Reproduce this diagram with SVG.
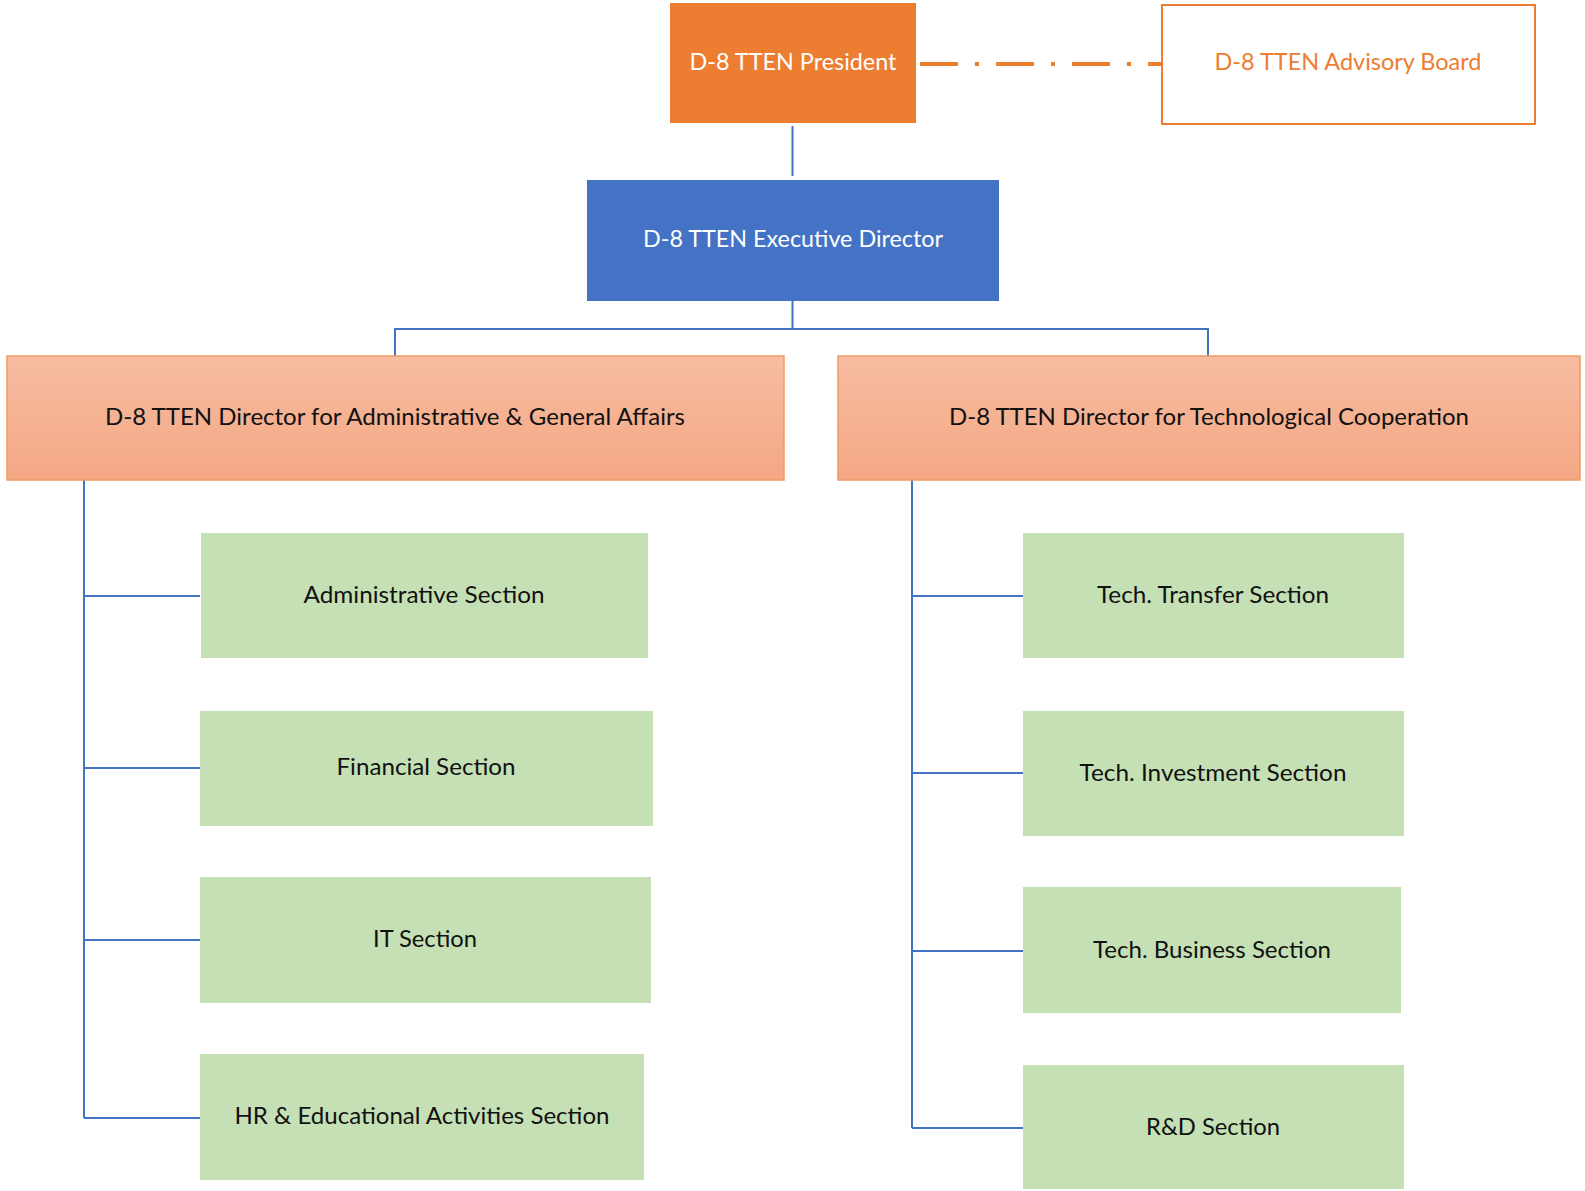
<svg xmlns="http://www.w3.org/2000/svg" width="1585" height="1191" viewBox="0 0 1585 1191">
<style>
text{font-family:Lato,"Liberation Sans",sans-serif;font-size:23px;text-anchor:middle}
.dark{fill:#111}
.white{fill:#fff}
.green{fill:#C5E0B4}
.conn{stroke:#4472C4;stroke-width:2;fill:none}
</style>
<defs>
<linearGradient id="dirGrad" x1="0" y1="0" x2="0" y2="1">
<stop offset="0" stop-color="#F7BDA2"/>
<stop offset="1" stop-color="#F4A783"/>
</linearGradient>
</defs>
<rect width="1585" height="1191" fill="#fff"/>
<g id="connectors">
<line x1="920" y1="64" x2="1161" y2="64" stroke="#ED7D31" stroke-width="4" stroke-dasharray="38 17 4 17"/>
<path class="conn" d="M792.5 126V176"/>
<path class="conn" d="M792.5 301V329M395 356V329H1208V356"/>
<path class="conn" d="M84 480V1118M84 596H200M84 768H200M84 940H200M84 1118H200"/>
<path class="conn" d="M912 480V1128M912 596H1023M912 773H1023M912 951H1023M912 1128H1023"/>
</g>
<g id="president">
<rect x="670" y="3" width="246" height="120" fill="#ED7D31"/>
<text x="793" y="70" class="white" textLength="207" lengthAdjust="spacingAndGlyphs">D-8 TTEN President</text>
</g>
<g id="advisory">
<rect x="1162" y="5" width="373" height="119" fill="#fff" stroke="#ED7D31" stroke-width="2"/>
<text x="1348" y="70" fill="#ED7D31" textLength="267" lengthAdjust="spacingAndGlyphs">D-8 TTEN Advisory Board</text>
</g>
<g id="executive">
<rect x="587" y="180" width="412" height="121" fill="#4472C4"/>
<text x="793" y="247" class="white" textLength="300" lengthAdjust="spacingAndGlyphs">D-8 TTEN Executive Director</text>
</g>
<g id="dir-admin">
<rect x="7" y="356" width="777" height="124" fill="url(#dirGrad)" stroke="#F09A64" stroke-width="1.5"/>
<text x="395" y="425" class="dark" textLength="580" lengthAdjust="spacingAndGlyphs">D-8 TTEN Director for Administrative &amp; General Affairs</text>
</g>
<g id="dir-tech">
<rect x="838" y="356" width="742" height="124" fill="url(#dirGrad)" stroke="#F09A64" stroke-width="1.5"/>
<text x="1209" y="425" class="dark" textLength="520" lengthAdjust="spacingAndGlyphs">D-8 TTEN Director for Technological Cooperation</text>
</g>
<g id="sec-admin">
<rect x="201" y="533" width="447" height="125" class="green"/>
<text x="424" y="603" class="dark" textLength="241" lengthAdjust="spacingAndGlyphs">Administrative Section</text>
</g>
<g id="sec-financial">
<rect x="200" y="711" width="453" height="115" class="green"/>
<text x="426" y="775" class="dark" textLength="179" lengthAdjust="spacingAndGlyphs">Financial Section</text>
</g>
<g id="sec-it">
<rect x="200" y="877" width="451" height="126" class="green"/>
<text x="425" y="947" class="dark" textLength="104" lengthAdjust="spacingAndGlyphs">IT Section</text>
</g>
<g id="sec-hr">
<rect x="200" y="1054" width="444" height="126" class="green"/>
<text x="422" y="1124" class="dark" textLength="375" lengthAdjust="spacingAndGlyphs">HR &amp; Educational Activities Section</text>
</g>
<g id="sec-transfer">
<rect x="1023" y="533" width="381" height="125" class="green"/>
<text x="1213" y="603" class="dark" textLength="232" lengthAdjust="spacingAndGlyphs">Tech. Transfer Section</text>
</g>
<g id="sec-investment">
<rect x="1023" y="711" width="381" height="125" class="green"/>
<text x="1213" y="781" class="dark" textLength="267" lengthAdjust="spacingAndGlyphs">Tech. Investment Section</text>
</g>
<g id="sec-business">
<rect x="1023" y="887" width="378" height="126" class="green"/>
<text x="1212" y="958" class="dark" textLength="238" lengthAdjust="spacingAndGlyphs">Tech. Business Section</text>
</g>
<g id="sec-rd">
<rect x="1023" y="1065" width="381" height="124" class="green"/>
<text x="1213" y="1135" class="dark" textLength="134" lengthAdjust="spacingAndGlyphs">R&amp;D Section</text>
</g>
</svg>
